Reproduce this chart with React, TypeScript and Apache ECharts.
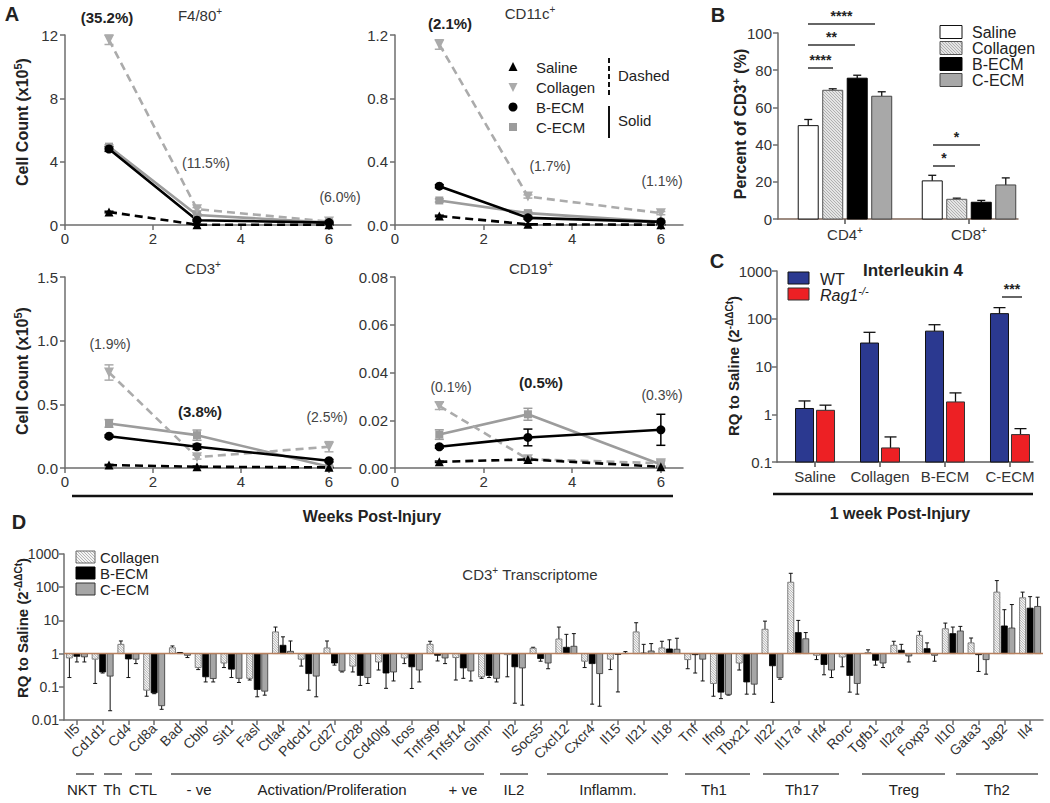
import React, { useEffect, useRef } from "react";
import * as echarts from "echarts";

const FONT = "'Liberation Sans', Arial, Helvetica, sans-serif";

// ---------------- Panel A data (weeks post-injury) ----------------
const weeks = [1, 3, 6];
const weekTicks = [0, 2, 4, 6];
const seriesNamesA = ["Saline", "Collagen", "B-ECM", "C-ECM"];
const aTitles = ["F4/80", "CD11c", "CD3", "CD19"];

const f480Saline = [0.82, 0.02, 0.01];
const f480Collagen = [11.7, 1.0, 0.22];
const f480BECM = [4.8, 0.3, 0.15];
const f480CECM = [4.95, 0.63, 0.15];
const f480SalineErr = [0.05, 0.02, 0.01];
const f480CollagenErr = [0.3, 0.1, 0.08];
const f480BECMErr = [0.15, 0.05, 0.04];
const f480CECMErr = [0.12, 0.08, 0.05];

const cd11cSaline = [0.057, 0.004, 0.002];
const cd11cCollagen = [1.14, 0.18, 0.075];
const cd11cBECM = [0.245, 0.045, 0.02];
const cd11cCECM = [0.155, 0.075, 0.02];
const cd11cSalineErr = [0.005, 0.003, 0.002];
const cd11cCollagenErr = [0.03, 0.01, 0.01];
const cd11cBECMErr = [0.01, 0.008, 0.005];
const cd11cCECMErr = [0.01, 0.01, 0.005];

const cd3Saline = [0.023, 0.01, 0.005];
const cd3Collagen = [0.75, 0.085, 0.167];
const cd3BECM = [0.25, 0.167, 0.057];
const cd3CECM = [0.35, 0.258, 0.01];
const cd3SalineErr = [0.005, 0.005, 0.003];
const cd3CollagenErr = [0.06, 0.015, 0.04];
const cd3BECMErr = [0.01, 0.02, 0.01];
const cd3CECMErr = [0.03, 0.04, 0.01];

const cd19Saline = [0.0026, 0.0036, 0.0005];
const cd19Collagen = [0.026, 0.0037, 0.002];
const cd19BECM = [0.0089, 0.0128, 0.016];
const cd19CECM = [0.014, 0.0225, 0.0015];
const cd19SalineErr = [0.0003, 0.0005, 0.0003];
const cd19CollagenErr = [0.0015, 0.0005, 0.0015];
const cd19BECMErr = [0.0006, 0.0035, 0.0065];
const cd19CECMErr = [0.002, 0.0025, 0.0015];

const f480Pct = ["(35.2%)", "(11.5%)", "(6.0%)"];
const cd11cPct = ["(2.1%)", "(1.7%)", "(1.1%)"];
const cd3Pct = ["(1.9%)", "(3.8%)", "(2.5%)"];
const cd19Pct = ["(0.1%)", "(0.5%)", "(0.3%)"];

// ---------------- Panel B data ----------------
const subsetsB = ["CD4", "CD8"];
const groupsB = ["Saline", "Collagen", "B-ECM", "C-ECM"];
const bSaline = [50.2, 20.5];
const bSalineErr = [3.3, 3.0];
const bCollagen = [69.2, 10.6];
const bCollagenErr = [0.8, 0.6];
const bBECM = [75.7, 9.0];
const bBECMErr = [1.6, 1.0];
const bCECM = [66.0, 18.3];
const bCECMErr = [2.4, 3.8];

// ---------------- Panel C data ----------------
const ilCats = ["Saline", "Collagen", "B-ECM", "C-ECM"];
const il4WT = [1.32, 31, 55, 128];
const il4WTErrTop = [1.9, 52, 75, 171];
const il4Rag = [1.21, 0.197, 1.81, 0.375];
const il4RagErrTop = [1.55, 0.335, 2.8, 0.5];

// ---------------- Panel D data ----------------
const genes = ["Il5", "Cd1d1", "Cd4", "Cd8a", "Bad", "Cblb", "Sit1", "Fasl", "Ctla4", "Pdcd1", "Cd27", "Cd28", "Cd40lg", "Icos", "Tnfrsf9", "Tnfsf14", "Glmn", "Il2", "Socs5", "Cxcl12", "Cxcr4", "Il15", "Il21", "Il18", "Tnf", "Ifng", "Tbx21", "Il22", "Il17a", "Irf4", "Rorc", "Tgfb1", "Il2ra", "Foxp3", "Il10", "Gata3", "Jag2", "Il4"];
const dCollagen = [0.74, 0.68, 1.9, 0.079, 1.5, 0.38, 0.52, 0.18, 4.5, 0.68, 1.48, 0.42, 0.56, 0.74, 1.9, 0.76, 0.2, 0.93, 1.45, 2.75, 0.59, 0.68, 4.5, 1.48, 0.66, 0.126, 0.52, 5.4, 141, 0.89, 0.79, 1.07, 1.78, 3.55, 5.6, 2.1, 71, 48];
const dCollagenErr = [0.19, 0.126, 2.4, 0.052, 1.7, 0.33, 0.38, 0.16, 6.3, 0.42, 2.4, 0.28, 0.32, 0.5, 2.35, 0.16, 0.18, 0.2, 1.55, 6.3, 0.38, 0.33, 8.5, 2.35, 0.35, 0.052, 0.32, 9.5, 262, 0.66, 0.4, 1.3, 2.35, 4.7, 8.3, 2.95, 158, 71];
const dBECM = [0.83, 0.28, 0.69, 0.066, 1.07, 0.2, 0.34, 0.083, 1.78, 0.25, 0.52, 0.22, 0.26, 0.4, 0.89, 0.37, 0.22, 0.4, 0.71, 1.55, 0.5, 0.95, 1.04, 1.38, 0.93, 0.069, 0.14, 0.43, 4.3, 0.47, 0.22, 0.63, 1.26, 1.41, 4.0, 0.93, 6.8, 23.4];
const dBECMErr = [0.56, 0.26, 0.19, 0.062, 1.08, 0.14, 0.19, 0.05, 3.2, 0.079, 0.45, 0.11, 0.09, 0.089, 0.6, 0.18, 0.19, 0.032, 0.59, 3.8, 0.03, 0.07, 1.9, 2.6, 0.26, 0.044, 0.06, 0.034, 10, 0.23, 0.069, 0.45, 1.9, 2.1, 6.3, 0.29, 21, 52];
const dCECM = [0.8, 0.21, 0.68, 0.027, 0.89, 0.178, 0.18, 0.074, 1.17, 0.21, 0.3, 0.19, 0.28, 0.32, 0.74, 0.3, 0.18, 0.37, 0.52, 1.66, 0.25, 1.02, 1.2, 1.35, 0.68, 0.059, 0.12, 0.19, 2.8, 0.32, 0.126, 0.52, 0.85, 0.89, 4.8, 0.66, 5.9, 26.3];
const dCECMErr = [0.56, 0.019, 0.5, 0.021, 0.76, 0.14, 0.135, 0.056, 2.4, 0.05, 0.28, 0.126, 0.15, 0.14, 0.5, 0.15, 0.14, 0.028, 0.35, 4.0, 0.026, 1.15, 2.0, 2.9, 0.15, 0.056, 0.06, 0.17, 4.3, 0.19, 0.06, 0.38, 0.56, 0.59, 6.6, 0.24, 30, 50];
const dGroupNames = ["NKT", "Th", "CTL", "- ve", "Activation/Proliferation", "+ ve", "IL2", "Inflamm.", "Th1", "Th17", "Treg", "Th2"];

// ---------------- helpers ----------------
const AX = { color: "#6e6e6e", width: 1.5 };
const TICKLBL = { color: "#333", fontSize: 15, fontFamily: FONT };

function richSup(size: number, bold = false, italic = false, color = "#222") {
  return {
    sup: {
      fontSize: Math.round(size * 0.66),
      fontFamily: FONT,
      fontWeight: bold ? "bold" : "normal",
      fontStyle: italic ? "italic" : "normal",
      fill: color,
      color: color,
      padding: [0, 0, Math.round(size * 0.55), 0],
    },
  };
}

function T(x: number, y: number, text: string, o: any = {}) {
  const size = o.size || 15;
  return {
    type: "text",
    x,
    y,
    rotation: o.rot || 0,
    z: 100,
    silent: true,
    style: {
      text,
      fontSize: size,
      fontFamily: FONT,
      fontWeight: o.bold ? "bold" : "normal",
      fontStyle: o.italic ? "italic" : "normal",
      fill: o.color || "#222",
      align: o.align || "center",
      verticalAlign: "middle",
      rich: richSup(size, o.bold, o.italic, o.color || "#222"),
    },
  };
}

function L(x1: number, y1: number, x2: number, y2: number, color = "#222", w = 1.5, dash?: number[]) {
  return {
    type: "line",
    z: 100,
    silent: true,
    shape: { x1, y1, x2, y2 },
    style: { stroke: color, lineWidth: w, lineDash: dash || null },
  };
}

function hatch(x: number, y: number, w: number, h: number, step: number, color: string, lw: number) {
  const out: any[] = [];
  const start = Math.floor((x - (y + h)) / step) * step;
  for (let c = start; c <= x + w - y; c += step) {
    const ymin = Math.max(y, x - c);
    const ymax = Math.min(y + h, x + w - c);
    if (ymax - ymin > 0.3) {
      out.push({ type: "line", shape: { x1: ymin + c, y1: ymin, x2: ymax + c, y2: ymax }, style: { stroke: color, lineWidth: lw } });
    }
  }
  return out;
}

function hatchedRect(x: number, y: number, w: number, h: number, fill: string, stroke: string, step: number) {
  return {
    type: "group",
    z: 100,
    silent: true,
    children: [
      { type: "rect", shape: { x, y, width: w, height: h }, style: { fill, stroke: null } },
      ...hatch(x, y, w, h, step, "#9a9a9a", 0.7),
      { type: "rect", shape: { x, y, width: w, height: h }, style: { fill: "none", stroke, lineWidth: 1 } },
    ],
  };
}

type BarSt = { fill: string; stroke: string; lw: number; hatch?: boolean; hstep?: number };

function barRender(offset: number, width: number, base: number, st: BarSt, capW: number, errW = 1) {
  return (params: any, api: any) => {
    const x = api.value(0);
    const v = api.value(1);
    const e = api.value(2);
    const pb = api.coord([x, base]);
    const pv = api.coord([x, v]);
    const pe = api.coord([x, e]);
    const cx = pb[0] + offset;
    const x0 = cx - width / 2;
    const y0 = Math.min(pb[1], pv[1]);
    const h = Math.abs(pb[1] - pv[1]);
    const children: any[] = [
      { type: "line", shape: { x1: cx, y1: pv[1], x2: cx, y2: pe[1] }, style: { stroke: "#111", lineWidth: errW } },
      { type: "line", shape: { x1: cx - capW / 2, y1: pe[1], x2: cx + capW / 2, y2: pe[1] }, style: { stroke: "#111", lineWidth: errW } },
      { type: "rect", shape: { x: x0, y: y0, width, height: h }, style: { fill: st.fill, stroke: null } },
    ];
    if (st.hatch) children.push(...hatch(x0, y0, width, h, st.hstep || 3, "#9a9a9a", 0.7));
    children.push({ type: "rect", shape: { x: x0, y: y0, width, height: h }, style: { fill: "none", stroke: st.stroke, lineWidth: st.lw } });
    return { type: "group", children };
  };
}

function errRenderA(color: string, cap: number) {
  return (params: any, api: any) => {
    const x = api.value(0);
    const a = api.coord([x, api.value(1)]);
    const b = api.coord([x, api.value(2)]);
    return {
      type: "group",
      children: [
        { type: "line", shape: { x1: a[0], y1: a[1], x2: b[0], y2: b[1] }, style: { stroke: color, lineWidth: 1.5 } },
        { type: "line", shape: { x1: a[0] - cap / 2, y1: a[1], x2: a[0] + cap / 2, y2: a[1] }, style: { stroke: color, lineWidth: 1.5 } },
        { type: "line", shape: { x1: b[0] - cap / 2, y1: b[1], x2: b[0] + cap / 2, y2: b[1] }, style: { stroke: color, lineWidth: 1.5 } },
      ],
    };
  };
}

const aStyles = [
  { color: "#000000", dashed: true, symbol: "triangle", rot: 0, size: 9 },
  { color: "#ababab", dashed: true, symbol: "triangle", rot: 180, size: 10 },
  { color: "#000000", dashed: false, symbol: "circle", rot: 0, size: 9 },
  { color: "#9c9c9c", dashed: false, symbol: "rect", rot: 0, size: 8 },
];

const aPanels = [
  { vals: [f480Saline, f480Collagen, f480BECM, f480CECM], errs: [f480SalineErr, f480CollagenErr, f480BECMErr, f480CECMErr], max: 12, interval: 4, dec: 0 },
  { vals: [cd11cSaline, cd11cCollagen, cd11cBECM, cd11cCECM], errs: [cd11cSalineErr, cd11cCollagenErr, cd11cBECMErr, cd11cCECMErr], max: 1.2, interval: 0.4, dec: 1 },
  { vals: [cd3Saline, cd3Collagen, cd3BECM, cd3CECM], errs: [cd3SalineErr, cd3CollagenErr, cd3BECMErr, cd3CECMErr], max: 1.5, interval: 0.5, dec: 1 },
  { vals: [cd19Saline, cd19Collagen, cd19BECM, cd19CECM], errs: [cd19SalineErr, cd19CollagenErr, cd19BECMErr, cd19CECMErr], max: 0.08, interval: 0.02, dec: 2 },
];

const grids = [
  { left: 65, top: 35, width: 286, height: 190 },
  { left: 395, top: 35, width: 288, height: 190 },
  { left: 65, top: 277, width: 286, height: 191 },
  { left: 395, top: 277, width: 288, height: 191 },
  { left: 778, top: 33, width: 240, height: 186 },
  { left: 777, top: 271, width: 256, height: 191 },
  { left: 64, top: 554, width: 979, height: 166 },
];

function buildOption() {
  const xAxis: any[] = [];
  const yAxis: any[] = [];
  const series: any[] = [];

  // ---- Panel A ----
  aPanels.forEach((p, gi) => {
    xAxis.push({
      type: "value", gridIndex: gi, min: 0, max: 6.5,
      axisLine: { show: true, onZero: false, lineStyle: AX },
      axisTick: { show: true, length: 5, customValues: weekTicks, lineStyle: AX },
      axisLabel: { ...TICKLBL, margin: 6, customValues: weekTicks },
      splitLine: { show: false },
    });
    yAxis.push({
      type: "value", gridIndex: gi, min: 0, max: p.max, interval: p.interval,
      axisLine: { show: true, onZero: false, lineStyle: AX },
      axisTick: { show: true, length: 5, lineStyle: AX },
      axisLabel: { ...TICKLBL, margin: 7, formatter: (v: number) => v.toFixed(p.dec) },
      splitLine: { show: false },
    });
    [3, 1, 2, 0].forEach((si) => {
      const st = aStyles[si];
      series.push({
        type: "custom", xAxisIndex: gi, yAxisIndex: gi, silent: true, z: 2,
        data: weeks.map((w, i) => [w, Math.max(0, p.vals[si][i] - p.errs[si][i]), p.vals[si][i] + p.errs[si][i]]),
        renderItem: errRenderA(st.color, 9),
      });
      series.push({
        type: "line", name: seriesNamesA[si], xAxisIndex: gi, yAxisIndex: gi, silent: true, z: 3,
        data: weeks.map((w, i) => [w, p.vals[si][i]]),
        symbol: st.symbol, symbolSize: st.size, symbolRotate: st.rot, showSymbol: true,
        lineStyle: { color: st.color, width: 2.6, type: st.dashed ? [8, 5] : "solid" },
        itemStyle: { color: st.color },
      });
    });
  });

  // ---- Panel B ----
  xAxis.push({
    type: "value", gridIndex: 4, min: 0.46, max: 2.395,
    axisLine: { show: true, onZero: false, lineStyle: { color: "#7d6558", width: 1.5 } },
    axisTick: { show: true, length: 5, customValues: [1, 2], lineStyle: { color: "#555", width: 1.5 } },
    axisLabel: {
      ...TICKLBL, margin: 6, customValues: [1, 2],
      formatter: (v: number) => subsetsB[Math.round(v) - 1] + "{sup|+}",
      rich: richSup(15, false, false, "#333"),
    },
    splitLine: { show: false },
  });
  yAxis.push({
    type: "value", gridIndex: 4, min: 0, max: 100, interval: 20,
    axisLine: { show: true, onZero: false, lineStyle: AX },
    axisTick: { show: true, length: 5, lineStyle: AX },
    axisLabel: { ...TICKLBL, margin: 6 },
    splitLine: { show: false },
  });
  const bStyles: BarSt[] = [
    { fill: "#ffffff", stroke: "#111", lw: 1 },
    { fill: "#e4e4e4", stroke: "#555", lw: 1, hatch: true, hstep: 3 },
    { fill: "#000000", stroke: "#000", lw: 1 },
    { fill: "#a8a8a8", stroke: "#444", lw: 1 },
  ];
  const bVals = [bSaline, bCollagen, bBECM, bCECM];
  const bErrs = [bSalineErr, bCollagenErr, bBECMErr, bCECMErr];
  const bOffsets = [-36.75, -12.25, 12.25, 36.75];
  bVals.forEach((vals, k) => {
    series.push({
      type: "custom", name: groupsB[k], xAxisIndex: 4, yAxisIndex: 4, silent: true,
      data: vals.map((v, i) => [i + 1, v, v + bErrs[k][i]]),
      renderItem: barRender(bOffsets[k], 20, 0, bStyles[k], 8, 1.3),
    });
  });

  // ---- Panel C ----
  xAxis.push({
    type: "value", gridIndex: 5, min: 0.415, max: 4.354,
    axisLine: { show: true, onZero: false, lineStyle: { color: "#5e5e5e", width: 1.5 } },
    axisTick: { show: true, length: 5, customValues: [1, 2, 3, 4], lineStyle: { color: "#555", width: 1.5 } },
    axisLabel: { ...TICKLBL, fontSize: 15, margin: 7, customValues: [1, 2, 3, 4], formatter: (v: number) => ilCats[Math.round(v) - 1] },
    splitLine: { show: false },
  });
  yAxis.push({
    type: "log", logBase: 10, gridIndex: 5, min: 0.1, max: 1000,
    axisLine: { show: true, onZero: false, lineStyle: AX },
    axisTick: { show: true, length: 5, lineStyle: AX },
    axisLabel: { ...TICKLBL, margin: 5, formatter: (v: number) => (v >= 1 ? String(Math.round(v)) : String(parseFloat(Number(v).toPrecision(2)))) },
    splitLine: { show: false },
  });
  series.push({
    type: "custom", name: "WT", xAxisIndex: 5, yAxisIndex: 5, silent: true,
    data: il4WT.map((v, i) => [i + 1, v, il4WTErrTop[i]]),
    renderItem: barRender(-10.5, 18, 0.1, { fill: "#2b3990", stroke: "#111", lw: 1 }, 12, 1.3),
  });
  series.push({
    type: "custom", name: "Rag1-/-", xAxisIndex: 5, yAxisIndex: 5, silent: true,
    data: il4Rag.map((v, i) => [i + 1, v, il4RagErrTop[i]]),
    renderItem: barRender(10.5, 18, 0.1, { fill: "#ed2024", stroke: "#333", lw: 1 }, 12, 1.3),
  });

  // ---- Panel D ----
  xAxis.push({
    type: "category", gridIndex: 6, data: genes,
    axisLine: { show: true, onZero: false, lineStyle: AX },
    axisTick: { show: true, length: 5, alignWithLabel: true, interval: 0, lineStyle: AX },
    axisLabel: { ...TICKLBL, fontSize: 14, rotate: 45, interval: 0, margin: 6 },
    splitLine: { show: false },
  });
  yAxis.push({
    type: "log", logBase: 10, gridIndex: 6, min: 0.01, max: 1000,
    axisLine: { show: true, onZero: false, lineStyle: AX },
    axisTick: { show: true, length: 5, lineStyle: AX },
    axisLabel: { ...TICKLBL, fontSize: 14, margin: 5, formatter: (v: number) => (v >= 1 ? String(Math.round(v)) : String(parseFloat(Number(v).toPrecision(2)))) },
    splitLine: { show: false },
  });
  const dStyles: BarSt[] = [
    { fill: "#f4f4f4", stroke: "#666", lw: 0.8, hatch: true, hstep: 2.5 },
    { fill: "#000000", stroke: "#000", lw: 0.8 },
    { fill: "#a6a6a6", stroke: "#333", lw: 0.8 },
  ];
  const dVals = [dCollagen, dBECM, dCECM];
  const dErrs = [dCollagenErr, dBECMErr, dCECMErr];
  const dNames = ["Collagen", "B-ECM", "C-ECM"];
  const dOffsets = [-7.5, 0, 7.5];
  dVals.forEach((vals, k) => {
    series.push({
      type: "custom", name: dNames[k], xAxisIndex: 6, yAxisIndex: 6, silent: true, z: 2,
      data: vals.map((v, i) => [i, v, dErrs[k][i]]),
      renderItem: barRender(dOffsets[k], 6, 1, dStyles[k], 4, 1),
    });
  });
  // baseline at RQ = 1
  series.push({
    type: "custom", xAxisIndex: 6, yAxisIndex: 6, silent: true, z: 5,
    data: [[0, 1]],
    renderItem: (params: any, api: any) => {
      const cs = params.coordSys;
      const p = api.coord([0, 1]);
      return { type: "line", shape: { x1: cs.x, y1: p[1], x2: cs.x + cs.width, y2: p[1] }, style: { stroke: "#b8805e", lineWidth: 1.5 } };
    },
  });

  // ---- Graphic annotations ----
  const g: any[] = [];
  // Panel letters
  g.push(T(12, 14, "A", { size: 20, bold: true }));
  g.push(T(718, 15, "B", { size: 20, bold: true }));
  g.push(T(717, 261, "C", { size: 20, bold: true }));
  g.push(T(19, 522, "D", { size: 20, bold: true }));

  // Panel A titles
  const aTitlePos = [[200, 15], [530, 13], [203, 268], [531, 268]];
  aTitles.forEach((t, i) => g.push(T(aTitlePos[i][0], aTitlePos[i][1], t + "{sup|+}", { size: 15, color: "#333" })));

  // Panel A percentages
  const pctSets = [f480Pct, cd11cPct, cd3Pct, cd19Pct];
  const pctPos = [
    [[107, 17], [206, 163], [340, 197]],
    [[450, 23], [550, 166], [662, 181]],
    [[110, 344], [200, 411], [327, 417]],
    [[451, 387], [541, 382], [662, 395]],
  ];
  const pctBold = [0, 0, 1, 1];
  pctSets.forEach((set, i) =>
    set.forEach((t, j) => {
      const b = j === pctBold[i];
      g.push(T(pctPos[i][j][0], pctPos[i][j][1], t, b ? { size: 15, bold: true } : { size: 14, color: "#444" }));
    })
  );

  // Cell count labels
  g.push(T(22, 122, "Cell Count (x10{sup|5})", { size: 16, bold: true, rot: Math.PI / 2 }));
  g.push(T(22, 371, "Cell Count (x10{sup|5})", { size: 16, bold: true, rot: Math.PI / 2 }));

  // Panel A legend
  g.push({ type: "polygon", z: 100, silent: true, shape: { points: [[513, 62], [508.5, 71], [517.5, 71]] }, style: { fill: "#000" } });
  g.push({ type: "polygon", z: 100, silent: true, shape: { points: [[508.5, 83], [517.5, 83], [513, 92]] }, style: { fill: "#ababab" } });
  g.push({ type: "circle", z: 100, silent: true, shape: { cx: 513, cy: 107, r: 4.5 }, style: { fill: "#000" } });
  g.push({ type: "rect", z: 100, silent: true, shape: { x: 509, y: 123, width: 8, height: 8 }, style: { fill: "#9c9c9c" } });
  seriesNamesA.forEach((n, i) => g.push(T(536, 67 + i * 20, n, { size: 15, align: "left", color: "#222" })));
  g.push(L(609, 58, 609, 97, "#111", 2, [5, 3]));
  g.push(L(609, 106, 609, 138, "#111", 2));
  g.push(T(618, 75, "Dashed", { size: 15, align: "left" }));
  g.push(T(618, 120, "Solid", { size: 15, align: "left" }));

  // Weeks Post-Injury
  g.push(L(72, 496, 673, 496, "#111", 2.5));
  g.push(T(372, 516, "Weeks Post-Injury", { size: 16, bold: true }));

  // Panel B labels, legend, significance
  g.push(T(740, 124, "Percent of CD3{sup|+} (%)", { size: 16, bold: true, rot: Math.PI / 2 }));
  const bLegendY = [32, 48, 64, 80];
  groupsB.forEach((n, i) => {
    const y = bLegendY[i] - 6.5;
    if (bStyles[i].hatch) g.push(hatchedRect(940, y, 22, 13, bStyles[i].fill, bStyles[i].stroke, 3));
    else g.push({ type: "rect", z: 100, silent: true, shape: { x: 940, y, width: 22, height: 13 }, style: { fill: bStyles[i].fill, stroke: bStyles[i].stroke, lineWidth: 1 } });
    g.push(T(972, bLegendY[i], n, { size: 16, align: "left" }));
  });
  const sigB = [
    { t: "****", x1: 808, x2: 875, y: 24 },
    { t: "**", x1: 808, x2: 855, y: 45 },
    { t: "****", x1: 808, x2: 833, y: 68 },
    { t: "*", x1: 933, x2: 980, y: 145 },
    { t: "*", x1: 933, x2: 955, y: 166 },
  ];
  sigB.forEach((s) => {
    g.push(L(s.x1, s.y, s.x2, s.y, "#333", 1.5));
    g.push(T((s.x1 + s.x2) / 2, s.y - 8, s.t, { size: 14, bold: true }));
  });

  // Panel C
  g.push(T(733, 366, "RQ to Saline (2{sup|-ΔΔCt})", { size: 15, bold: true, rot: Math.PI / 2 }));
  g.push(T(913, 270, "Interleukin 4", { size: 17, bold: true }));
  g.push({ type: "rect", z: 100, silent: true, shape: { x: 788, y: 272, width: 21, height: 12 }, style: { fill: "#2b3990", stroke: "#111", lineWidth: 1 } });
  g.push({ type: "rect", z: 100, silent: true, shape: { x: 788, y: 288, width: 21, height: 12 }, style: { fill: "#ed2024", stroke: "#333", lineWidth: 1 } });
  g.push(T(820, 279, "WT", { size: 16, align: "left" }));
  g.push(T(820, 295, "Rag1{sup|-/-}", { size: 16, align: "left", italic: true }));
  g.push(L(1002, 297, 1022, 297, "#333", 1.5));
  g.push(T(1012, 289, "***", { size: 14, bold: true }));
  g.push(L(773, 494, 1033, 494, "#111", 2.5));
  g.push(T(900, 513, "1 week Post-Injury", { size: 16, bold: true }));

  // Panel D
  g.push(T(22, 628, "RQ to Saline (2{sup|-ΔΔCt})", { size: 15, bold: true, rot: Math.PI / 2 }));
  g.push(T(530, 574, "CD3{sup|+} Transcriptome", { size: 15, color: "#333" }));
  const dLegY = [557, 573, 589];
  dNames.forEach((n, i) => {
    const y = dLegY[i] - 6;
    if (dStyles[i].hatch) g.push(hatchedRect(76, y, 19, 12, dStyles[i].fill, "#666", 3));
    else g.push({ type: "rect", z: 100, silent: true, shape: { x: 76, y, width: 19, height: 12 }, style: { fill: dStyles[i].fill, stroke: dStyles[i].stroke, lineWidth: 1 } });
    g.push(T(100, dLegY[i], n, { size: 15, align: "left" }));
  });
  const dLines = [[76, 94], [104, 122], [135, 152], [171, 484], [500, 528], [547, 668], [685, 750], [763, 839], [862, 945], [956, 1038]];
  dLines.forEach((l) => g.push(L(l[0], 774, l[1], 774, "#555", 1.5)));
  const dLabelX = [82, 112, 143, 199, 332, 463, 514, 608, 714, 802, 904, 997];
  dGroupNames.forEach((n, i) => g.push(T(dLabelX[i], 789, n, { size: 15, color: "#222" })));

  return {
    animation: false,
    backgroundColor: "#ffffff",
    textStyle: { fontFamily: FONT },
    grid: grids.map((gr) => ({ ...gr, containLabel: false })),
    xAxis,
    yAxis,
    series,
    graphic: g,
  };
}

export default function App() {
  const ref = useRef<HTMLDivElement>(null);
  useEffect(() => {
    if (!ref.current) return;
    const chart = echarts.init(ref.current, null, { renderer: "svg" });
    chart.setOption(buildOption() as any);
    return () => chart.dispose();
  }, []);
  return <div ref={ref} style={{ position: "absolute", left: 0, top: 0, width: 1050, height: 803, background: "#fff" }} />;
}
